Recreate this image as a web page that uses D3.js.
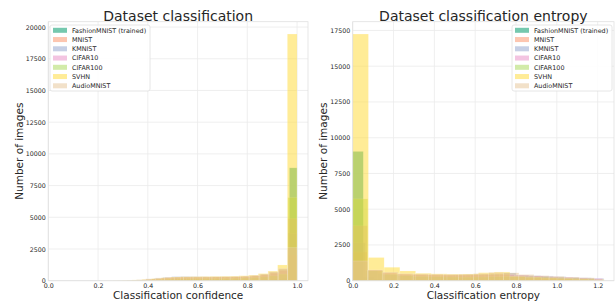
<!DOCTYPE html>
<html><head><meta charset="utf-8">
<script src="https://cdn.jsdelivr.net/npm/d3@7/dist/d3.min.js"></script>
<style>body{margin:0;background:#fff;}svg{display:block;font-family:"DejaVu Sans",sans-serif;}</style>
</head><body><svg id="c" width="616" height="304"></svg>
<script>
// ---------------- DATA ----------------
const datasets = ["FashionMNIST (trained)", "MNIST", "KMNIST", "CIFAR10", "CIFAR100", "SVHN", "AudioMNIST"];

// Confidence histograms: each dataset 20 bins from its minimum to 1.0
const confMin = [0.38, 0.30, 0.28, 0.27, 0.26, 0.22, 0.24];
const confFashion = [4, 6, 8, 10, 14, 18, 22, 26, 30, 36, 40, 46, 52, 60, 70, 85, 100, 130, 180, 8900];
const confMNIST   = [5, 12, 30, 60, 110, 160, 200, 230, 240, 245, 250, 255, 260, 275, 300, 350, 430, 560, 780, 2030];
const confKMNIST  = [8, 20, 50, 100, 180, 260, 320, 330, 320, 310, 300, 300, 300, 310, 340, 400, 500, 650, 900, 3750];
const confCIFAR10 = [6, 15, 35, 70, 130, 190, 240, 270, 280, 280, 285, 290, 295, 305, 330, 380, 460, 600, 820, 4900];
const confCIFAR100= [5, 10, 25, 50, 80, 110, 140, 160, 170, 175, 180, 185, 190, 200, 220, 250, 300, 380, 520, 6550];
const confSVHN    = [5, 12, 30, 60, 100, 160, 230, 290, 310, 320, 330, 340, 350, 360, 390, 440, 560, 760, 1240, 19450];
const confAudio   = [4, 12, 35, 80, 150, 220, 280, 300, 300, 300, 300, 310, 320, 330, 360, 420, 520, 700, 980, 2600];

// Entropy histograms: bins start at 0 with a per-dataset bin width
const entWidth = [0.052, 0.070, 0.0615, 0.072, 0.074, 0.077, 0.074];
const entFashion = [9045, 250, 120, 80, 60, 50, 40, 35, 30, 28, 25, 22, 20, 18, 15, 12, 10, 8, 6, 4];
const entMNIST   = [2000, 700, 500, 430, 400, 390, 380, 380, 400, 430, 440, 360, 300, 250, 200, 160, 120];
const entKMNIST  = [2650, 700, 500, 430, 400, 390, 380, 380, 400, 420, 440, 470, 540, 380, 350, 330, 280, 240, 200, 160];
const entCIFAR10 = [3840, 750, 550, 450, 420, 400, 390, 390, 400, 420, 430, 380, 330, 280, 240, 200, 150];
const entCIFAR100= [5720, 700, 450, 350, 300, 280, 260, 250, 260, 280, 300, 290, 260, 220, 180, 140];
const entSVHN    = [17250, 1620, 940, 680, 520, 480, 460, 470, 560, 610, 300, 240, 190, 150, 110, 80];
const entAudio   = [1380, 750, 600, 500, 480, 460, 450, 460, 500, 580, 550, 430, 350, 300, 250, 200];

const confXTicks = [0.0, 0.2, 0.4, 0.6, 0.8, 1.0];
const confYTicks = [0, 2500, 5000, 7500, 10000, 12500, 15000, 17500, 20000];
const entXTicks = [0.0, 0.2, 0.4, 0.6, 0.8, 1.0, 1.2];
const entYTicks = [0, 2500, 5000, 7500, 10000, 12500, 15000, 17500];

// ---------------- STYLE ----------------
const colors = ["#66c2a5", "#fc8d62", "#8da0cb", "#e78ac3", "#a6d854", "#ffd92f", "#e5c494"];
const alphas = [0.9, 0.5, 0.5, 0.5, 0.5, 0.5, 0.5];
const textColor = "#262626";
const gridColor = "#ebebeb";

const svg = d3.select("#c");

function confBins(i, counts) {
  const lo = confMin[i], w = (1.0 - lo) / counts.length;
  return counts.map((c, k) => ({x0: lo + k * w, x1: lo + (k + 1) * w, n: c}));
}
function entBins(i, counts) {
  const w = entWidth[i];
  return counts.map((c, k) => ({x0: k * w, x1: (k + 1) * w, n: c}));
}

const confSeries = [confFashion, confMNIST, confKMNIST, confCIFAR10, confCIFAR100, confSVHN, confAudio].map((c, i) => confBins(i, c));
const entSeries = [entFashion, entMNIST, entKMNIST, entCIFAR10, entCIFAR100, entSVHN, entAudio].map((c, i) => entBins(i, c));

function panel(opt) {
  const {left, right, top, bottom, xDomain, series, xTicks, yTicks, title, xlabel, ylabelX, legendX} = opt;
  const ymax = d3.max(series, s => d3.max(s, b => b.n)) * 1.05;
  const x = d3.scaleLinear().domain(xDomain).range([left, right]);
  const y = d3.scaleLinear().domain([0, ymax]).range([bottom, top]);
  const g = svg.append("g");

  // grid
  g.append("g").selectAll("line").data(xTicks).join("line")
    .attr("x1", d => x(d)).attr("x2", d => x(d)).attr("y1", top).attr("y2", bottom)
    .attr("stroke", gridColor).attr("stroke-width", 0.8);
  g.append("g").selectAll("line").data(yTicks).join("line")
    .attr("x1", left).attr("x2", right).attr("y1", d => y(d)).attr("y2", d => y(d))
    .attr("stroke", gridColor).attr("stroke-width", 0.8);

  // bars
  series.forEach((s, i) => {
    g.append("g").selectAll("rect").data(s).join("rect")
      .attr("x", d => x(d.x0)).attr("width", d => Math.max(0, x(d.x1) - x(d.x0)))
      .attr("y", d => y(d.n)).attr("height", d => bottom - y(d.n))
      .attr("fill", colors[i]).attr("fill-opacity", alphas[i])
      .attr("stroke", "#ffffff").attr("stroke-opacity", alphas[i] * 0.6).attr("stroke-width", 0.5);
  });

  // frame
  g.append("rect").attr("x", left).attr("y", top).attr("width", right - left).attr("height", bottom - top)
    .attr("fill", "none").attr("stroke", "#e0e0e0").attr("stroke-width", 0.8);

  // axes
  const xa = g.append("g").attr("transform", `translate(0,${bottom})`)
    .call(d3.axisBottom(x).tickValues(xTicks).tickFormat(d3.format(".1f")).tickSize(0).tickPadding(2.6));
  const ya = g.append("g").attr("transform", `translate(${left},0)`)
    .call(d3.axisLeft(y).tickValues(yTicks).tickFormat(d3.format("d")).tickSize(0).tickPadding(2.5));
  [xa, ya].forEach(a => {
    a.select(".domain").remove();
    a.selectAll("text").attr("fill", textColor).attr("font-size", 6.3).attr("font-family", "DejaVu Sans");
  });

  g.append("text").attr("x", (left + right) / 2).attr("y", 21).attr("text-anchor", "middle")
    .attr("font-size", 14).attr("fill", textColor).text(title);
  g.append("text").attr("x", (left + right) / 2).attr("y", 299).attr("text-anchor", "middle")
    .attr("font-size", 10.5).attr("fill", textColor).text(xlabel);
  g.append("text").attr("transform", `translate(${ylabelX},${(top + bottom) / 2}) rotate(-90)`)
    .attr("text-anchor", "middle").attr("font-size", 10.5).attr("fill", textColor).text("Number of images");

  // legend
  const lg = g.append("g").attr("transform", `translate(${legendX},25)`);
  lg.append("rect").attr("width", 100).attr("height", 66).attr("rx", 2)
    .attr("fill", "#ffffff").attr("fill-opacity", 0.85).attr("stroke", "#e0e0e0").attr("stroke-width", 0.8);
  datasets.forEach((name, i) => {
    const cy = 5.3 + i * 9.25;
    lg.append("rect").attr("x", 3).attr("y", cy - 2.5).attr("width", 14).attr("height", 5)
      .attr("fill", colors[i]).attr("fill-opacity", alphas[i]);
    lg.append("text").attr("x", 22).attr("y", cy).attr("dy", "0.35em")
      .attr("font-size", 6.4).attr("fill", textColor).text(name);
  });
}

panel({left: 48.3, right: 308, top: 21.7, bottom: 280.7, xDomain: [0, 1.044], series: confSeries,
  xTicks: confXTicks, yTicks: confYTicks, title: "Dataset classification", xlabel: "Classification confidence",
  ylabelX: 22.5, legendX: 50});
panel({left: 352.7, right: 614, top: 21.7, bottom: 280.7, xDomain: [0, 1.28], series: entSeries,
  xTicks: entXTicks, yTicks: entYTicks, title: "Dataset classification entropy", xlabel: "Classification entropy",
  ylabelX: 326.5, legendX: 512});
</script></body></html>
